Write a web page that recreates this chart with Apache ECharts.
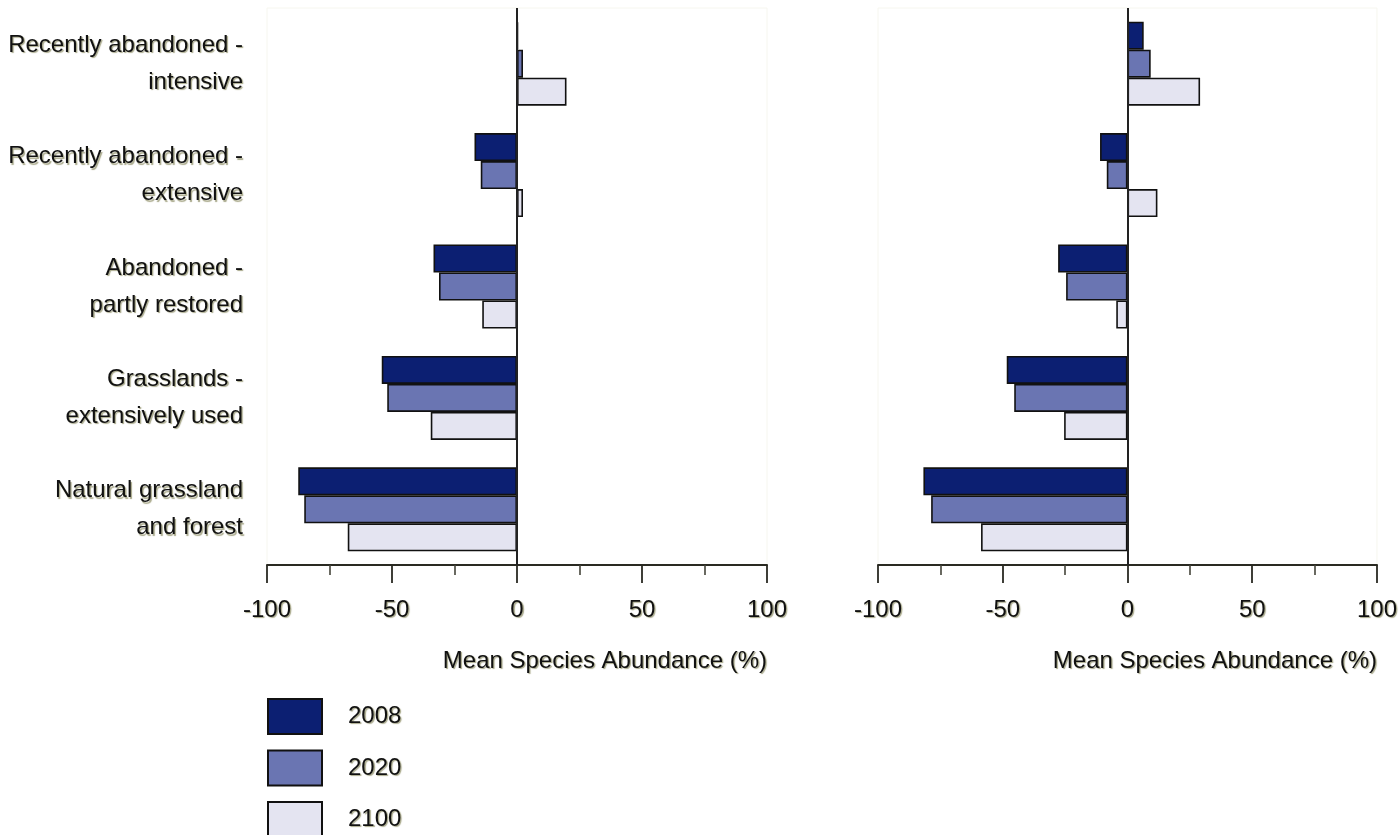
<!DOCTYPE html>
<html>
<head>
<meta charset="utf-8">
<title>Mean Species Abundance</title>
<script src="https://cdn.jsdelivr.net/npm/echarts@6/dist/echarts.min.js"></script>
<style>
  html, body { margin: 0; padding: 0; background: #fff; }
  #chart { width: 1400px; height: 835px; }
</style>
</head>
<body>
<div id="chart"></div>
<script>
// Land-use categories (top to bottom)
const categories = [
  'Recently abandoned -\nintensive',
  'Recently abandoned -\nextensive',
  'Abandoned -\npartly restored',
  'Grasslands -\nextensively used',
  'Natural grassland\nand forest'
];
const years = ['2008', '2020', '2100'];

// Change in mean species abundance (%), left panel
const left2008 = [0.4, -17.0, -33.4, -54.1, -87.5];
const left2020 = [2.4, -14.5, -31.2, -51.9, -85.1];
const left2100 = [19.8, 2.4, -13.9, -34.5, -67.7];

// Change in mean species abundance (%), right panel
const right2008 = [6.5, -11.0, -27.8, -48.4, -81.8];
const right2020 = [9.3, -8.3, -24.6, -45.4, -78.7];
const right2100 = [29.1, 12.0, -4.5, -25.4, -58.7];

const axisTitle = 'Mean Species Abundance (%)';
const colors = ['#0c1f72', '#6a75b2', '#e4e4f1'];

const FONT = '"Liberation Sans", Arial, sans-serif';
const shadow = {
  textShadowColor: 'rgba(110,110,60,0.6)',
  textShadowBlur: 1,
  textShadowOffsetX: 1.3,
  textShadowOffsetY: 1.3
};

function xAxisFor(gridIndex) {
  return {
    type: 'value',
    gridIndex: gridIndex,
    min: -100,
    max: 100,
    interval: 50,
    splitLine: { show: false },
    axisLine: { show: true, lineStyle: { color: '#2a2a22', width: 2 } },
    axisTick: { show: true, length: 18, lineStyle: { color: '#2a2a22', width: 1.8 } },
    minorTick: { show: true, splitNumber: 2, length: 10, lineStyle: { color: '#44443a', width: 1.6 } },
    axisLabel: Object.assign({ fontFamily: FONT, fontSize: 24, color: '#111', margin: 33 }, shadow),
    name: axisTitle,
    nameLocation: 'end',
    nameGap: 0,
    nameTextStyle: Object.assign({
      fontFamily: FONT, fontSize: 24, color: '#111',
      align: 'right', verticalAlign: 'top', padding: [84, 0, 0, 0]
    }, shadow)
  };
}

function yAxisFor(gridIndex, showLabels) {
  return {
    type: 'category',
    gridIndex: gridIndex,
    data: categories,
    inverse: true,
    axisLine: { show: false },
    axisTick: { show: false },
    axisLabel: Object.assign({
      show: showLabels, fontFamily: FONT, fontSize: 24, color: '#111',
      align: 'right', lineHeight: 37, margin: 24, padding: [7, 0, 0, 0]
    }, shadow)
  };
}

const zeroLine = {
  silent: true,
  symbol: ['none', 'none'],
  label: { show: false },
  lineStyle: { color: '#222', width: 2, type: 'solid' },
  data: [{ xAxis: 0 }]
};

function barSeries(name, data, idx, axisIndex, withZero) {
  const s = {
    name: name,
    type: 'bar',
    xAxisIndex: axisIndex,
    yAxisIndex: axisIndex,
    data: data,
    barWidth: 28,
    barGap: '0%',
    itemStyle: { color: colors[idx], borderColor: '#111', borderWidth: 1.6 },
    emphasis: { disabled: true }
  };
  if (withZero) s.markLine = zeroLine;
  return s;
}

const chart = echarts.init(document.getElementById('chart'), null, { renderer: 'canvas' });
chart.setOption({
  animation: false,
  backgroundColor: '#ffffff',
  grid: [
    { left: 267, width: 500, top: 8, height: 557, show: true, borderColor: '#f6f6ef', borderWidth: 1, backgroundColor: 'transparent' },
    { left: 878, width: 500, top: 8, height: 557, show: true, borderColor: '#f6f6ef', borderWidth: 1, backgroundColor: 'transparent' }
  ],
  xAxis: [xAxisFor(0), xAxisFor(1)],
  yAxis: [yAxisFor(0, true), yAxisFor(1, false)],
  legend: {
    orient: 'vertical',
    left: 267,
    top: 698,
    height: 300,
    padding: 0,
    itemWidth: 54,
    itemHeight: 35,
    itemGap: 14.5,
    icon: 'rect',
    selectedMode: false,
    data: years,
    textStyle: Object.assign({ fontFamily: FONT, fontSize: 24, color: '#111', padding: [0, 0, 0, 21] }, shadow)
  },
  series: [
    barSeries(years[0], left2008, 0, 0, true),
    barSeries(years[1], left2020, 1, 0, false),
    barSeries(years[2], left2100, 2, 0, false),
    barSeries(years[0], right2008, 0, 1, true),
    barSeries(years[1], right2020, 1, 1, false),
    barSeries(years[2], right2100, 2, 1, false)
  ]
});
</script>
</body>
</html>
